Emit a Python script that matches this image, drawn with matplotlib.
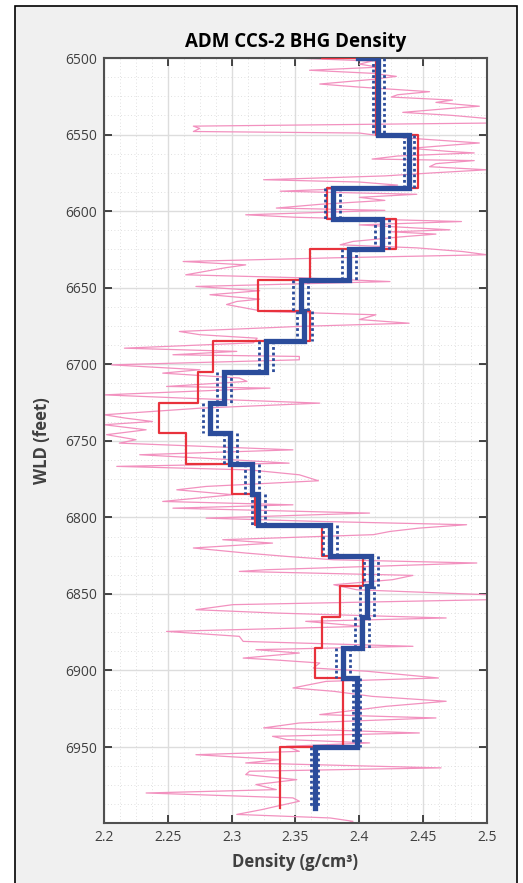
import numpy as np
import matplotlib.pyplot as plt
from matplotlib.patches import Rectangle

plt.rcParams['font.family'] = ['Open Sans', 'DejaVu Sans']

# step model: layer boundaries (ft) and layer densities (g/cm3)
edges = [6490, 6500, 6550, 6585, 6605, 6625, 6645, 6665, 6685, 6705, 6725,
         6745, 6765, 6785, 6805, 6825, 6845, 6865, 6885, 6905, 6950, 6990]
bhg = [2.399, 2.415, 2.439, 2.379, 2.418, 2.392, 2.354, 2.357, 2.327, 2.294, 2.283,
       2.299, 2.316, 2.321, 2.377, 2.409, 2.406, 2.402, 2.387, 2.398, 2.365]
bhg_err = [0.004, 0.004, 0.004, 0.006, 0.0056, 0.0057, 0.0058, 0.0056, 0.0056, 0.0056, 0.0056,
           0.0052, 0.0053, 0.005, 0.0055, 0.0053, 0.0053, 0.0053, 0.0055, 0.0026, 0.0028]
log_avg = [2.371, 2.413, 2.446, 2.375, 2.429, 2.361, 2.321, 2.361, 2.285, 2.274, 2.243,
           2.264, 2.300, 2.318, 2.371, 2.403, 2.385, 2.371, 2.365, 2.387, 2.338]

# density log
log_depth = [6500, 6502, 6504, 6506, 6508, 6510, 6512, 6514, 6517, 6519, 6522, 6524, 6525.5,
             6527.5, 6529, 6531.5, 6533, 6535.5, 6537.5, 6539.5, 6542.5, 6544.5, 6546, 6548,
             6549, 6551, 6553, 6555.5, 6557, 6559, 6561, 6562, 6564, 6566, 6567, 6569, 6571,
             6573, 6575, 6577, 6579.5, 6581, 6583, 6585, 6587, 6589, 6591, 6593, 6595.5, 6598,
             6599.5, 6602.4, 6604, 6606.8, 6609, 6612.2, 6613.5, 6615, 6617, 6619.8, 6622,
             6624, 6626.4, 6628.5, 6630.5, 6632.9, 6635.1, 6637, 6641.6, 6643.5, 6646, 6649.2,
             6652, 6654.6, 6657.5, 6659, 6661, 6665.5, 6667.7, 6670.8, 6673.2, 6675.3, 6678.6,
             6680.7, 6683, 6686, 6689.5, 6691.6, 6693.8, 6694.9, 6697.1,
             6700.4, 6703.6, 6705.8, 6709, 6711.2, 6714.5, 6715.6, 6720, 6722.1, 6725.4,
             6728.7, 6733, 6735.2, 6737.4, 6739.5, 6742.8, 6746, 6749.3, 6751.5, 6755.9,
             6759.1, 6762.4, 6764.6, 6766.7, 6769, 6772.2, 6776.1, 6779.8, 6782, 6785.2,
             6789.6, 6791.8, 6794, 6797.2, 6800.5, 6802.6, 6804.8, 6807, 6809.2, 6811.3,
             6814.6, 6816.8, 6820, 6823.3, 6825.5, 6827.7, 6829.8, 6834.2, 6835.3, 6837.9,
             6840.7, 6844, 6847.3, 6850.5, 6853.8, 6857, 6860.3, 6862.5, 6865.7, 6867.9,
             6871.2, 6874.5, 6877.7, 6881, 6884.2, 6886.4, 6888.6, 6891.9, 6893, 6895.1,
             6898.4, 6900.5, 6904.9, 6907.1, 6911.4, 6913.6, 6916.9, 6920.1, 6923.4, 6928.8,
             6931, 6934.3, 6937.5, 6940.8, 6943, 6945.1, 6947.3, 6949.5, 6952.8, 6955,
             6958.2, 6960.4, 6963.6, 6965.8, 6968, 6971.3, 6974.5, 6977.8, 6980, 6983.2,
             6985.4, 6988.7, 6990.8, 6994, 6996.3, 6998.5, 7000]
log_rho = [2.348, 2.41, 2.40, 2.415, 2.361, 2.41, 2.429, 2.41, 2.369, 2.40, 2.455, 2.43, 2.425,
           2.473, 2.46, 2.494, 2.47, 2.434, 2.473, 2.50, 2.50, 2.27, 2.275, 2.27,
           2.40, 2.418, 2.45, 2.494, 2.47, 2.44, 2.47, 2.49, 2.43, 2.41, 2.49, 2.46, 2.455,
           2.50, 2.458, 2.42, 2.325, 2.40, 2.43, 2.40, 2.338, 2.445, 2.40, 2.42, 2.37, 2.335,
           2.42, 2.311, 2.35, 2.48, 2.40, 2.471, 2.425, 2.46, 2.43, 2.395, 2.385,
           2.445, 2.481, 2.50, 2.38, 2.262, 2.311, 2.295, 2.264, 2.353, 2.424, 2.272,
           2.322, 2.283, 2.322, 2.304, 2.296, 2.325, 2.413, 2.40, 2.439, 2.353, 2.259,
           2.275, 2.32, 2.317, 2.216, 2.304, 2.254, 2.353, 2.353,
           2.206, 2.275, 2.246, 2.306, 2.312, 2.249, 2.33, 2.20, 2.262, 2.369,
           2.275, 2.20, 2.217, 2.238, 2.20, 2.233, 2.202, 2.225, 2.212, 2.348,
           2.228, 2.301, 2.345, 2.21, 2.314, 2.353, 2.368, 2.28, 2.257, 2.301,
           2.246, 2.348, 2.254, 2.408, 2.28, 2.366, 2.484, 2.447, 2.424, 2.411,
           2.293, 2.332, 2.27, 2.311, 2.343, 2.38, 2.492, 2.327, 2.306, 2.442,
           2.426, 2.38, 2.398, 2.50, 2.50, 2.301, 2.272, 2.335, 2.468, 2.358,
           2.403, 2.249, 2.306, 2.309, 2.442, 2.319, 2.353, 2.309, 2.332, 2.369,
           2.364, 2.406, 2.462, 2.374, 2.348, 2.38, 2.41, 2.468, 2.421, 2.369,
           2.46, 2.353, 2.325, 2.447, 2.332, 2.343, 2.408, 2.343, 2.353, 2.272,
           2.338, 2.311, 2.464, 2.314, 2.311, 2.351, 2.319, 2.335, 2.233, 2.348,
           2.353, 2.335, 2.324, 2.304, 2.377, 2.395, 2.39]


def steps(edges, vals):
    y = np.repeat(edges, 2)[1:-1]
    x = np.repeat(vals, 2)
    return x, y


fig = plt.figure(figsize=(5.23, 8.83), dpi=100, facecolor='white')
# grey panel with thin black frame (bottom edge runs off the image)
fig.add_artist(Rectangle((15/523, -0.02), 502/523, 1.02 - 6/883, transform=fig.transFigure,
                         facecolor='#f0f0f0', edgecolor='black', lw=1.2, zorder=-10))
ax = fig.add_axes([104/523, 1 - 823/883, 383/523, 765/883])

ax.plot(log_rho, log_depth, color='#f291bf', lw=0.9, zorder=2)

x, y = steps(edges, log_avg)
ax.plot(x, y, color='#e8323c', lw=1.6, zorder=3)

e = np.array(edges)
b = np.array(bhg)
er = np.array(bhg_err)
for xs in [b - er, b + er]:
    ax.vlines(xs, e[:-1], e[1:], colors='#2b4c9b', lw=2.0, linestyles=(0, (1, 1)), zorder=4)

x, y = steps(edges, bhg)
ax.plot(x, y, color='#2b4c9b', lw=3.8, zorder=5, solid_joinstyle='miter')

ax.set_xlim(2.2, 2.5)
ax.set_ylim(6999.6, 6500)
ax.set_xticks([2.2, 2.25, 2.3, 2.35, 2.4, 2.45, 2.5])
ax.set_xticklabels(['2.2', '2.25', '2.3', '2.35', '2.4', '2.45', '2.5'])
ax.set_yticks(np.arange(6500, 7000, 50))
ax.set_xticks(np.arange(2.2, 2.5001, 0.0125), minor=True)
ax.set_yticks(np.arange(6500, 7000, 12.5), minor=True)

ax.grid(which='major', color='#dddddd', lw=1.0, ls='-', zorder=0)
ax.grid(which='minor', color='#d6d6d6', lw=0.6, ls=(0, (1, 3)), zorder=0)
ax.set_axisbelow(True)
ax.tick_params(which='major', direction='in', length=6, width=1.2, color='#262626',
               top=True, right=True, labelsize=10, labelcolor='#404040', pad=5)
ax.tick_params(which='minor', length=0)
for s in ax.spines.values():
    s.set_color('#505050')
    s.set_linewidth(1.5)

ax.set_title('ADM CCS-2 BHG Density', fontsize=13.5, fontweight='bold', pad=8)
ax.set_xlabel('Density (g/cm³)', fontsize=12, fontweight='bold', color='#404040', labelpad=6)
ax.set_ylabel('WLD (feet)', fontsize=12, fontweight='bold', color='#404040', labelpad=10)

fig.savefig('out.png', dpi=100)
